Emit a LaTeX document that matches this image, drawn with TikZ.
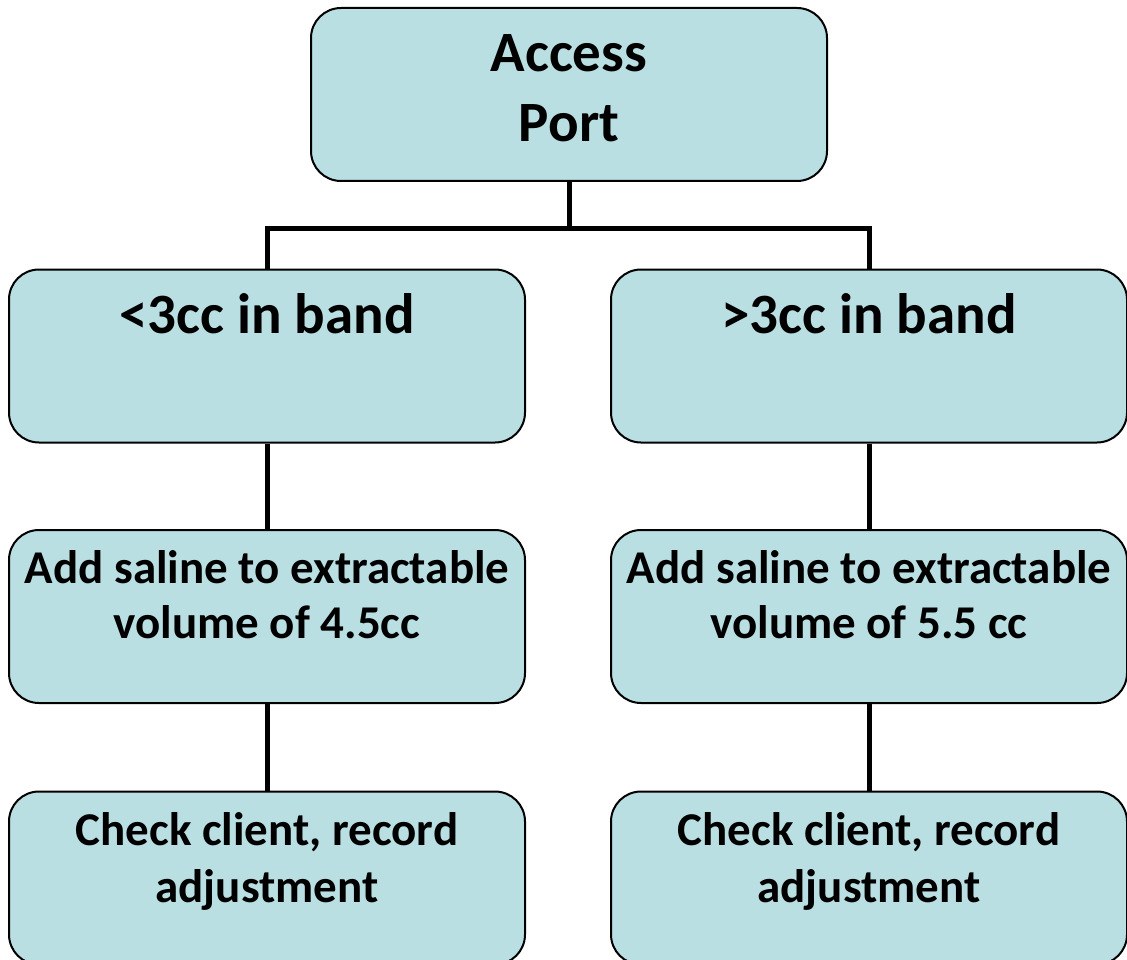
\documentclass[tikz,border=0pt]{standalone}
\usepackage{fontspec}
\setmainfont{Carlito}
\definecolor{boxfill}{HTML}{B9DFE3}
\tikzset{
  x=1pt, y=-1pt,
  box/.style={draw=black, line width=2pt, fill=boxfill, rounded corners=30pt,
    minimum width=516pt, minimum height=173pt, inner sep=0pt},
  bigtxt/.style={font=\bfseries\fontsize{57}{70}\selectfont, align=center, anchor=base, inner sep=0pt},
  midtxt/.style={font=\bfseries\fontsize{47}{55}\selectfont, align=center, anchor=base, inner sep=0pt},
  lowtxt/.style={font=\bfseries\fontsize{47}{57}\selectfont, align=center, anchor=base, inner sep=0pt},
  link/.style={draw=black, line width=5pt},
}
\begin{document}
\begin{tikzpicture}
\useasboundingbox (0,0) rectangle (1127,960);

% boxes
\node[box] (port) at (569,94.5) {};
\node[box] (lt) at (267,356) {};
\node[box] (rt) at (869,356) {};
\node[box] (ladd) at (267,616.5) {};
\node[box] (radd) at (869,616.5) {};
\node[box] (lchk) at (267,878) {};
\node[box] (rchk) at (869,878) {};

% connectors
\coordinate (split) at (569,229);
\draw[link] (port.south) -- (split);
\draw[link] (lt.north) |- (split) -| (rt.north);
\draw[link] (lt.south) -- (ladd.north);
\draw[link] (rt.south) -- (radd.north);
\draw[link] (ladd.south) -- (lchk.north);
\draw[link] (radd.south) -- (rchk.north);

% labels (base anchor sits on the last line)
\node[bigtxt] (portlbl) at (569,142) {Access\\Port};
\node[bigtxt] (ltlbl) at (267,333) {<3cc in band};
\node[bigtxt] (rtlbl) at (869,333) {>3cc in band};
\node[midtxt] (laddlbl) at (267,638) {Add saline to extractable\\volume of 4.5cc};
\node[midtxt] (raddlbl) at (869,638) {Add saline to extractable\\volume of 5.5 cc};
\node[lowtxt] (lchklbl) at (267,902) {Check client, record\\adjustment};
\node[lowtxt] (rchklbl) at (869,902) {Check client, record\\adjustment};
\end{tikzpicture}
\end{document}
